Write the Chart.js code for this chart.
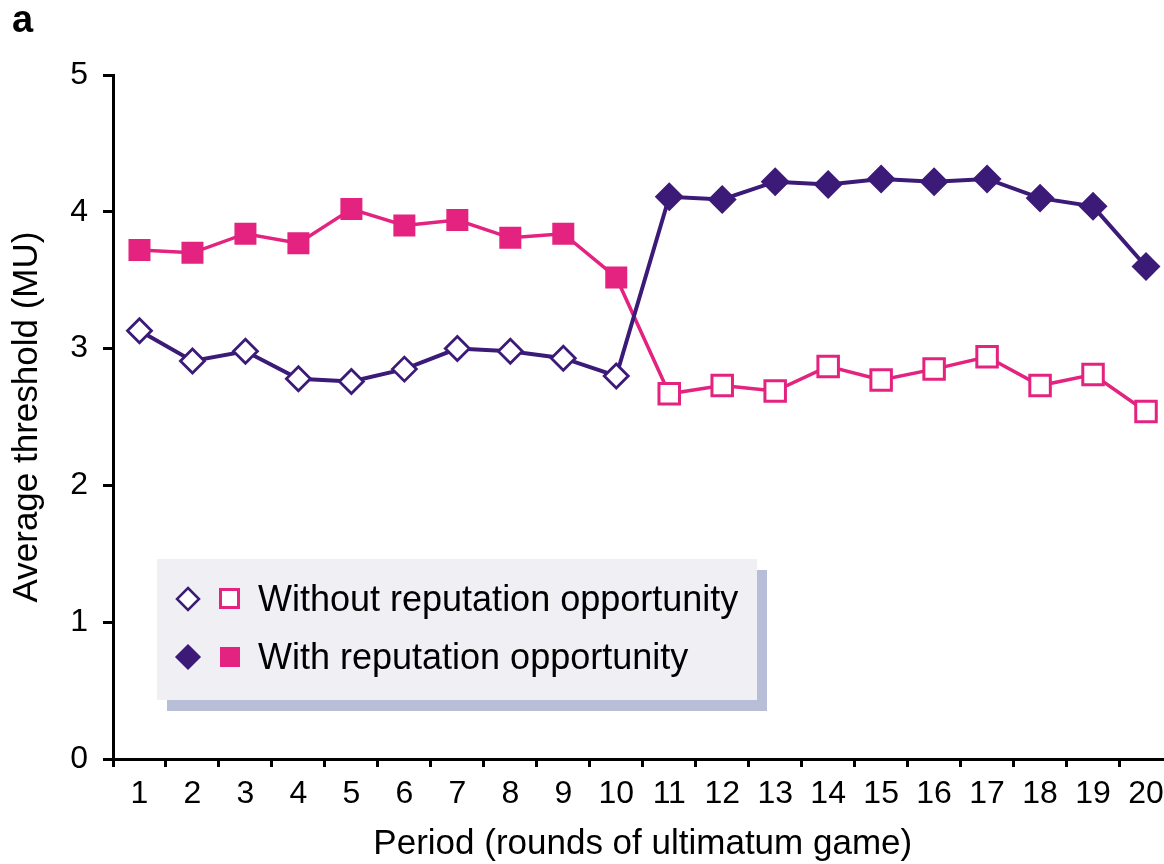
<!DOCTYPE html>
<html>
<head>
<meta charset="utf-8">
<script src="https://cdn.jsdelivr.net/npm/chart.js@4.4.0/dist/chart.umd.min.js"></script>
<style>
  html, body { margin: 0; padding: 0; background: #fff; overflow: hidden; }
  #wrap { position: relative; width: 1164px; height: 864px; overflow: hidden; }
  #chart { position: absolute; left: 0; top: 0; }
  #panel { position: absolute; left: 12px; top: -2px; font: bold 38px "Liberation Sans", Arial, sans-serif; color: #000; }
  #legend { position: absolute; left: 157px; top: 559px; width: 600px; height: 141px;
            background: #efeff4; box-shadow: 10px 11px 0 #b8bdd8;
            font: 36px "Liberation Sans", Arial, sans-serif; color: #000; }
  .row { position: absolute; left: 0; height: 40px; }
  .row svg { position: absolute; left: 0; top: 0; }
  .row span { position: absolute; left: 101px; white-space: nowrap; line-height: 40px; top: 0; }
</style>
</head>
<body>
<div id="wrap">
  <canvas id="chart" width="1190" height="864"></canvas>
  <div id="panel">a</div>
  <div id="legend">
    <div class="row" style="top:20px;width:600px;">
      <svg width="100" height="40"><polygon points="31,9 42,20 31,31 20,20" fill="#fff" stroke="#3b1a78" stroke-width="2.5"/><rect x="63.5" y="10.5" width="18" height="18" fill="#fff" stroke="#e3237f" stroke-width="3"/></svg>
      <span>Without reputation opportunity</span>
    </div>
    <div class="row" style="top:78px;width:600px;">
      <svg width="100" height="40"><polygon points="31,8 43,20 31,32 19,20" fill="#3b1a78" stroke="#3b1a78" stroke-width="1.5"/><rect x="63" y="10" width="20" height="20" fill="#e3237f"/></svg>
      <span>With reputation opportunity</span>
    </div>
  </div>
</div>
<script>
// ---- data ----
const periods = ['1','2','3','4','5','6','7','8','9','10','11','12','13','14','15','16','17','18','19','20'];
// diamond series (without reputation in periods 1-10, with reputation in 11-20)
const diamondThreshold = [3.13, 2.91, 2.98, 2.78, 2.76, 2.85, 3.00, 2.98, 2.93, 2.80,
                          4.11, 4.09, 4.22, 4.20, 4.24, 4.22, 4.24, 4.10, 4.04, 3.60];
// square series (with reputation in periods 1-10, without reputation in 11-20)
const squareThreshold  = [3.72, 3.70, 3.84, 3.77, 4.02, 3.90, 3.94, 3.81, 3.84, 3.52,
                          2.67, 2.73, 2.69, 2.87, 2.77, 2.85, 2.94, 2.73, 2.81, 2.54];
const diamondWithReputation = [false,false,false,false,false,false,false,false,false,false,
                               true,true,true,true,true,true,true,true,true,true];
const squareWithReputation  = [true,true,true,true,true,true,true,true,true,true,
                               false,false,false,false,false,false,false,false,false,false];
const yTicks = [0, 1, 2, 3, 4, 5];
const xTitle = 'Period (rounds of ultimatum game)';
const yTitle = 'Average threshold (MU)';

const PURPLE = '#3b1a78';
const PINK = '#e3237f';
const tickFont = { family: '"Liberation Sans", Arial, sans-serif', size: 32 };
const titleFont = { family: '"Liberation Sans", Arial, sans-serif', size: 35, lineHeight: 1 };

new Chart(document.getElementById('chart'), {
  type: 'line',
  data: {
    labels: periods,
    datasets: [
      {
        label: 'diamonds',
        data: diamondThreshold,
        borderColor: PURPLE,
        borderWidth: 4,
        pointStyle: 'rectRot',
        pointRadius: ctx => diamondWithReputation[ctx.dataIndex] ? 12.5 : 12,
        pointBorderWidth: 2.8,
        pointBorderColor: PURPLE,
        pointBackgroundColor: ctx => diamondWithReputation[ctx.dataIndex] ? PURPLE : '#ffffff',
        tension: 0
      },
      {
        label: 'squares',
        data: squareThreshold,
        borderColor: PINK,
        borderWidth: 3.5,
        pointStyle: 'rect',
        pointRadius: 14.5,
        pointBorderWidth: ctx => squareWithReputation[ctx.dataIndex] ? 1.5 : 3,
        pointBorderColor: PINK,
        pointBackgroundColor: ctx => squareWithReputation[ctx.dataIndex] ? PINK : '#ffffff',
        tension: 0
      }
    ]
  },
  options: {
    responsive: false,
    animation: false,
    layout: { padding: { left: 0, top: 75, right: 17, bottom: 0 } },
    plugins: { legend: { display: false }, tooltip: { enabled: false } },
    scales: {
      x: {
        type: 'category',
        offset: true,
        grid: { display: true, drawOnChartArea: false, drawTicks: true, offset: true, tickLength: 8, lineWidth: 3, color: '#000' },
        border: { display: true, color: '#000', width: 3 },
        ticks: { color: '#000', font: tickFont, padding: 8, maxRotation: 0, autoSkip: false },
        title: { display: true, text: xTitle, color: '#000', font: titleFont, padding: { top: 0, bottom: 2 } },
        afterFit: s => { s.height = 105; }
      },
      y: {
        min: 0, max: 5,
        afterBuildTicks: s => { s.ticks = yTicks.map(v => ({ value: v })); },
        grid: { display: true, drawOnChartArea: false, drawTicks: true, tickLength: 10, lineWidth: 3, color: '#000' },
        border: { display: true, color: '#000', width: 3 },
        ticks: { color: '#000', font: tickFont, padding: 15 },
        title: { display: true, text: yTitle, color: '#000', font: titleFont, padding: { top: 10, bottom: 0 } },
        afterFit: s => { s.width = 113; }
      }
    }
  }
});
</script>
</body>
</html>
